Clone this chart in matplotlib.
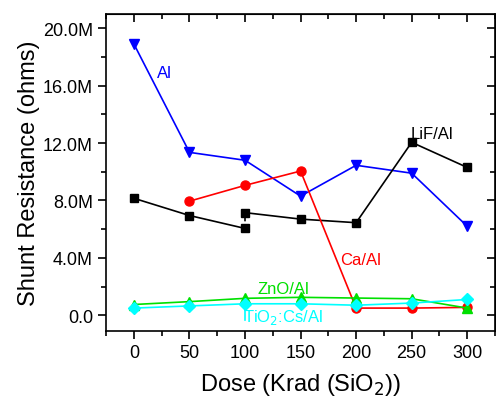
import matplotlib
matplotlib.use("Agg")
import matplotlib.pyplot as plt
import matplotlib.ticker as mticker

plt.rcParams["font.family"] = ["Liberation Sans", "DejaVu Sans"]

dose = [0, 50, 100, 150, 200, 250, 300]

al = [18.9, 11.35, 10.8, 8.3, 10.45, 9.9, 6.2]

lif_dose_a = [0, 50, 100]
lif_a = [8.15, 6.95, 6.05]
lif_dose_b = [100, 150, 200, 250, 300]
lif_b = [7.15, 6.7, 6.45, 12.05, 10.3]

ca_dose = [50, 100, 150, 200, 250, 300]
ca = [7.95, 9.05, 10.05, 0.5, 0.5, 0.55]

zno = [0.75, 0.95, 1.18, 1.25, 1.2, 1.15, 0.5]
tio2 = [0.5, 0.65, 0.8, 0.8, 0.7, 0.85, 1.1]

fig = plt.figure(figsize=(4.96, 4.02), dpi=100)
ax = fig.add_axes([0.214, 0.174, 0.784, 0.789])

M = 1e6
ax.plot(dose, [v * M for v in al], color="blue", marker="v", ms=7, lw=1.2)
ax.plot(lif_dose_a, [v * M for v in lif_a], color="black", marker="s", ms=6, lw=1.2)
ax.plot(lif_dose_b, [v * M for v in lif_b], color="black", marker="s", ms=6, lw=1.2)
ax.plot([100, 100], [lif_a[-1] * M, lif_b[0] * M], color="black", lw=1.2, ls=(0, (2, 2)))
ax.plot(ca_dose, [v * M for v in ca], color="red", marker="o", ms=6.5, lw=1.2)
ax.plot(dose, [v * M for v in zno], color="#00e000", marker="^", ms=7, lw=1.2)
ax.plot(dose, [v * M for v in tio2], color="cyan", marker="D", ms=6, lw=1.2)
# error bar on the TiO2:Cs point at 100
ax.plot([100, 100], [tio2[2] * M, -0.3 * M], color="cyan", lw=1.2)

ax.text(21, 16.6 * M, "Al", color="blue", fontsize=12)
ax.text(249, 12.35 * M, "LiF/Al", color="black", fontsize=12)
ax.text(186, 3.6 * M, "Ca/Al", color="red", fontsize=12)
ax.text(111, 1.53 * M, "ZnO/Al", color="#00e000", fontsize=12)
ax.text(98, -0.42 * M, "TiO$_2$:Cs/Al", color="cyan", fontsize=12)

ax.set_xlim(-25, 325)
ax.set_ylim(-1.1 * M, 21 * M)
ax.xaxis.set_major_locator(mticker.MultipleLocator(50))
ax.xaxis.set_minor_locator(mticker.MultipleLocator(25))
ax.yaxis.set_major_locator(mticker.MultipleLocator(4 * M))
ax.yaxis.set_minor_locator(mticker.MultipleLocator(2 * M))
ax.yaxis.set_major_formatter(
    mticker.FuncFormatter(lambda v, p: "0.0" if abs(v) < 1 else f"{v / M:.1f}M"))

ax.tick_params(which="both", direction="out", top=False, right=False, labelsize=13, width=1.2)
ax.tick_params(which="major", length=6)
ax.tick_params(which="minor", length=3.5)
sec_x = ax.secondary_xaxis("top")
sec_x.xaxis.set_major_locator(mticker.MultipleLocator(50))
sec_x.xaxis.set_minor_locator(mticker.MultipleLocator(25))
sec_x.tick_params(which="both", direction="in", labeltop=False, width=1.2)
sec_x.tick_params(which="major", length=6)
sec_x.tick_params(which="minor", length=3.5)
sec_y = ax.secondary_yaxis("right")
sec_y.yaxis.set_major_locator(mticker.MultipleLocator(4 * M))
sec_y.yaxis.set_minor_locator(mticker.MultipleLocator(2 * M))
sec_y.tick_params(which="both", direction="in", labelright=False, width=1.2)
sec_y.tick_params(which="major", length=6)
sec_y.tick_params(which="minor", length=3.5)
for s in ax.spines.values():
    s.set_linewidth(1.2)

ax.set_xlabel("Dose (Krad (SiO$_2$))", fontsize=17, labelpad=7)
ax.set_ylabel("Shunt Resistance (ohms)", fontsize=17, labelpad=2)

fig.savefig("out.png", dpi=100)
